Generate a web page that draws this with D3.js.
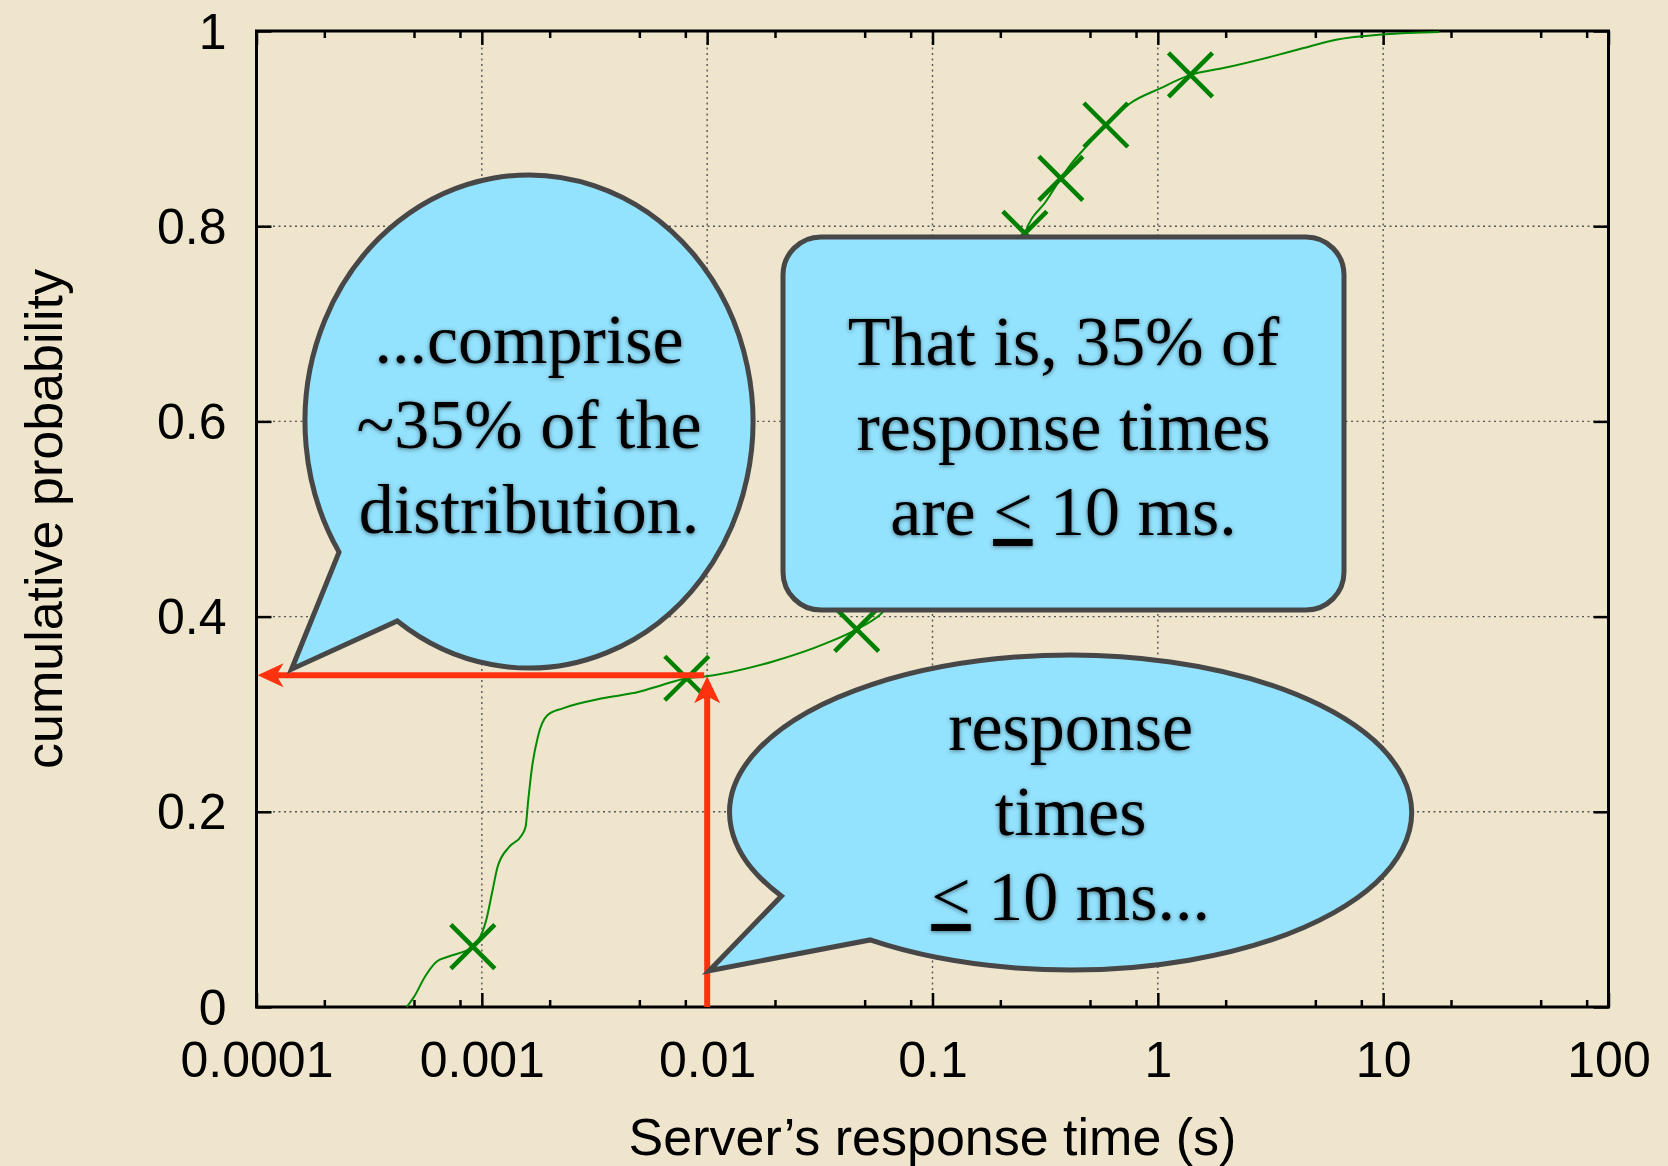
<!DOCTYPE html>
<html>
<head>
<meta charset="utf-8">
<script src="https://cdn.jsdelivr.net/npm/d3@7"></script>
<style>
  html, body { margin: 0; padding: 0; background: #EEE5CC; }
  svg { display: block; }
</style>
</head>
<body>
<div id="chart"></div>
<script>
// axis ticks
const xTicks = [0.0001, 0.001, 0.01, 0.1, 1, 10, 100];
const xTickLabels = ["0.0001", "0.001", "0.01", "0.1", "1", "10", "100"];
const yTicks = [0, 0.2, 0.4, 0.6, 0.8, 1];
const yTickLabels = ["0", "0.2", "0.4", "0.6", "0.8", "1"];

// CDF of server response time (s)
const cdfTime = [0.000464, 0.000501, 0.000559, 0.000629, 0.000707, 0.000912, 0.001046, 0.001109,
  0.001175, 0.001322, 0.001503, 0.001564, 0.001607, 0.001671, 0.001773, 0.001954, 0.002286,
  0.003381, 0.004995, 0.006321, 0.00812, 0.0096, 0.0196, 0.034, 0.0461, 0.0585, 0.08, 0.12,
  0.17, 0.21, 0.257, 0.322, 0.371, 0.414, 0.481, 0.588, 0.755, 1.019, 1.396, 1.954, 3.22,
  4.35, 6.18, 10.19, 17.7];
const cdfProb = [0, 0.0106, 0.031, 0.0464, 0.0515, 0.0618, 0.0891, 0.1165,
  0.1437, 0.164, 0.176, 0.1847, 0.212, 0.246, 0.277, 0.299, 0.306,
  0.316, 0.323, 0.330, 0.3368, 0.3384, 0.354, 0.373, 0.387, 0.402, 0.44, 0.53,
  0.63, 0.71, 0.7927, 0.8268, 0.849, 0.8644, 0.8815, 0.9037, 0.926, 0.941, 0.955, 0.962, 0.974,
  0.982, 0.991, 0.9966, 0.999];

// point markers on the curve
const markTime = [0.000912, 0.00812, 0.0461, 0.257, 0.371, 0.588, 1.396];
const markProb = [0.0618, 0.3368, 0.387, 0.7927, 0.849, 0.9037, 0.955];

// the 10 ms reference
const refTime = 0.01;
const refProb = 0.34;

const W = 1668, H = 1166;
const margin = {top: 31, right: 59.5, bottom: 159, left: 256.5};
const width = W - margin.left - margin.right;
const height = H - margin.top - margin.bottom;

const svg = d3.select('#chart').append('svg')
    .attr('width', W)
    .attr('height', H);

svg.append('rect').attr('width', W).attr('height', H).attr('fill', '#EEE5CC');

const defs = svg.append('defs');
const glow = defs.append('filter').attr('id', 'glow')
    .attr('x', '-10%').attr('y', '-20%').attr('width', '120%').attr('height', '140%');
glow.append('feDropShadow')
    .attr('dx', 0).attr('dy', 1)
    .attr('stdDeviation', 2)
    .attr('flood-color', '#000')
    .attr('flood-opacity', 0.5);

const g = svg.append('g')
    .attr('transform', `translate(${margin.left},${margin.top})`);

const x = d3.scaleLog().domain([0.0001, 100]).range([0, width]);
const y = d3.scaleLinear().domain([0, 1]).range([height, 0]);

// Grid
const grid = g.append('g')
    .attr('stroke', '#555')
    .attr('stroke-width', 1.4)
    .attr('stroke-dasharray', '2,3.5');
grid.selectAll('.vgrid')
    .data(xTicks.slice(1, -1))
    .enter().append('line')
    .attr('x1', d => x(d)).attr('x2', d => x(d))
    .attr('y1', 0).attr('y2', height);
grid.selectAll('.hgrid')
    .data(yTicks.slice(1, -1))
    .enter().append('line')
    .attr('x1', 0).attr('x2', width)
    .attr('y1', d => y(d)).attr('y2', d => y(d));

// Axes
const minorTicks = [];
xTicks.slice(0, -1).forEach(t => [2, 5, 8].forEach(m => minorTicks.push(t * m)));

const styleAxis = sel => {
    sel.select('.domain').remove();
    sel.selectAll('line').attr('stroke', '#000').attr('stroke-width', 2.5);
    sel.selectAll('text')
        .attr('fill', '#000')
        .style('font-family', '"Liberation Sans", Arial, Helvetica, sans-serif')
        .style('font-size', '50px');
};

g.append('g')
    .attr('transform', `translate(0,${height})`)
    .call(d3.axisBottom(x).tickValues(xTicks)
        .tickFormat((d, i) => xTickLabels[i])
        .tickSizeInner(-14).tickSizeOuter(0).tickPadding(34))
    .call(styleAxis);
g.append('g')
    .attr('transform', `translate(0,${height})`)
    .call(d3.axisBottom(x).tickValues(minorTicks).tickFormat('')
        .tickSizeInner(-7).tickSizeOuter(0))
    .call(styleAxis);
g.append('g')
    .call(d3.axisTop(x).tickValues(xTicks).tickFormat('')
        .tickSizeInner(-14).tickSizeOuter(0))
    .call(styleAxis);
g.append('g')
    .call(d3.axisTop(x).tickValues(minorTicks).tickFormat('')
        .tickSizeInner(-7).tickSizeOuter(0))
    .call(styleAxis);
g.append('g')
    .call(d3.axisLeft(y).tickValues(yTicks)
        .tickFormat((d, i) => yTickLabels[i])
        .tickSizeInner(-15).tickSizeOuter(0).tickPadding(30))
    .call(styleAxis)
    .selectAll('text').attr('dy', '0.34em');
g.append('g')
    .attr('transform', `translate(${width},0)`)
    .call(d3.axisRight(y).tickValues(yTicks).tickFormat('')
        .tickSizeInner(-15).tickSizeOuter(0))
    .call(styleAxis);

// Frame
g.append('rect')
    .attr('width', width).attr('height', height)
    .attr('fill', 'none')
    .attr('stroke', '#000')
    .attr('stroke-width', 3);

// Axis titles
svg.append('text')
    .attr('x', margin.left + width / 2)
    .attr('y', 1155)
    .attr('text-anchor', 'middle')
    .style('font-family', '"Liberation Sans", Arial, Helvetica, sans-serif')
    .style('font-size', '52px')
    .text('Server\u2019s response time (s)');
svg.append('text')
    .attr('transform', `translate(62,${margin.top + height / 2}) rotate(-90)`)
    .attr('text-anchor', 'middle')
    .style('font-family', '"Liberation Sans", Arial, Helvetica, sans-serif')
    .style('font-size', '52px')
    .text('cumulative probability');

// CDF curve
const cdf = cdfTime.map((t, i) => ({t, p: cdfProb[i]}));
g.append('path')
    .datum(cdf)
    .attr('fill', 'none')
    .attr('stroke', '#008A00')
    .attr('stroke-width', 2)
    .attr('d', d3.line().x(d => x(d.t)).y(d => y(d.p)).curve(d3.curveMonotoneX));

// X markers
const marks = markTime.map((t, i) => ({t, p: markProb[i]}));
const ms = 22;
g.selectAll('.mark')
    .data(marks)
    .enter().append('path')
    .attr('class', 'mark')
    .attr('d', d => {
        const cx = x(d.t), cy = y(d.p);
        return `M${cx - ms},${cy - ms}L${cx + ms},${cy + ms}M${cx - ms},${cy + ms}L${cx + ms},${cy - ms}`;
    })
    .attr('stroke', '#008000')
    .attr('stroke-width', 4.5)
    .attr('fill', 'none');

// Callouts
const bubbleFill = '#93E2FE';
const bubbleStroke = '#474747';
const serif = '"Liberation Serif", "Times New Roman", serif';

function bubblePath(cx, cy, rx, ry) {
    const pt = deg => {
        const a = deg * Math.PI / 180;
        return [cx + rx * Math.cos(a), cy + ry * Math.sin(a)];
    };
    const a = pt(148), b = pt(126);
    const tip = [cx - 1.06 * rx, cy + 1.005 * ry];
    return `M${a} A${rx},${ry} 0 1 1 ${b} L${tip} Z`;
}

// lines are arrays of [text, underlined] pieces
function addLines(cx, baselines, lines) {
    const t = svg.append('text')
        .attr('text-anchor', 'middle')
        .attr('filter', 'url(#glow)')
        .style('font-family', serif)
        .style('font-size', '70px')
        .attr('fill', '#000');
    lines.forEach((parts, i) => {
        parts.forEach(([s, u], j) => {
            const ts = t.append('tspan').text(s);
            if (j === 0) ts.attr('x', cx).attr('y', baselines[i]);
            if (u) ts.style('text-decoration', 'underline');
        });
    });
}

const callouts = [
    {type: 'bubble', cx: 529, cy: 421.5, rx: 224, ry: 246.5,
     lines: [[['...comprise']], [['~35% of the']], [['distribution.']]], base: [363, 448, 533]},
    {type: 'box', x0: 783, y0: 237, x1: 1344, y1: 610,
     lines: [[['That is, 35% of']], [['response times']], [['are '], ['<', true], [' 10 ms.']]],
     base: [365, 450, 535]},
    {type: 'bubble', cx: 1070.6, cy: 812.5, rx: 341, ry: 157.5,
     lines: [[['response']], [['times']], [['<', true], [' 10 ms...']]], base: [750, 835, 920]}
];

callouts.forEach(c => {
    if (c.type === 'bubble') {
        svg.append('path')
            .attr('d', bubblePath(c.cx, c.cy, c.rx, c.ry))
            .attr('fill', bubbleFill)
            .attr('stroke', bubbleStroke)
            .attr('stroke-width', 5)
            .attr('stroke-linejoin', 'miter');
        addLines(c.cx, c.base, c.lines);
    } else {
        svg.append('rect')
            .attr('x', c.x0).attr('y', c.y0)
            .attr('width', c.x1 - c.x0).attr('height', c.y1 - c.y0)
            .attr('rx', 38).attr('ry', 38)
            .attr('fill', bubbleFill)
            .attr('stroke', bubbleStroke)
            .attr('stroke-width', 5);
        addLines((c.x0 + c.x1) / 2, c.base, c.lines);
    }
});

// Red reference arrows
const red = '#FF3210';
const rx0 = x(refTime), ry0 = y(refProb);
g.append('line')
    .attr('x1', rx0 - 3).attr('y1', ry0)
    .attr('x2', 18).attr('y2', ry0)
    .attr('stroke', red).attr('stroke-width', 6);
g.append('path')
    .attr('d', `M1,${ry0}L27,${ry0 - 12}L20,${ry0}L27,${ry0 + 12}Z`)
    .attr('fill', red);
g.append('line')
    .attr('x1', rx0).attr('y1', height)
    .attr('x2', rx0).attr('y2', ry0 + 20)
    .attr('stroke', red).attr('stroke-width', 6);
g.append('path')
    .attr('d', `M${rx0},${ry0 + 1}L${rx0 - 13},${ry0 + 28}L${rx0},${ry0 + 21}L${rx0 + 13},${ry0 + 28}Z`)
    .attr('fill', red);
</script>
</body>
</html>
